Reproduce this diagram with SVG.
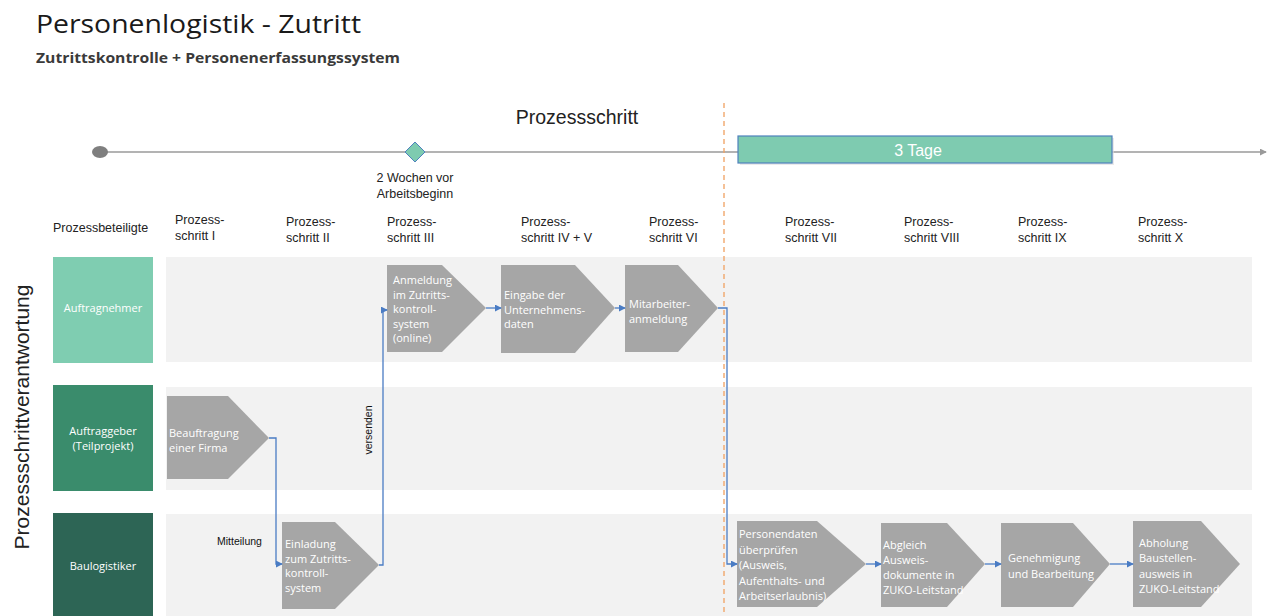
<svg xmlns="http://www.w3.org/2000/svg" width="1271" height="616" viewBox="0 0 1271 616">
<style>
.hdr{font-family:"Liberation Sans",Arial,sans-serif;font-size:12.5px;fill:#222}
.lane{font-family:"Open Sans","Liberation Sans",sans-serif;font-size:11px;fill:#fff;text-anchor:middle}
.step{fill:#a6a6a6}
.stxt{font-family:"Open Sans","Liberation Sans",sans-serif;font-size:11px;fill:#fff}
.band{fill:#f2f2f2}
.con{fill:none;stroke:#4a7cc4;stroke-width:1.3}
.lbl{font-family:"Liberation Sans",Arial,sans-serif;font-size:10.5px;fill:#111}
</style>
<defs>
<marker id="arr" viewBox="0 0 8 8" refX="7" refY="4" markerWidth="7" markerHeight="7" markerUnits="userSpaceOnUse" orient="auto">
<path d="M0,0 L8,4 L0,8 z" fill="#4a7cc4"/>
</marker>
<marker id="tarr" viewBox="0 0 8 8" refX="7" refY="4" markerWidth="7" markerHeight="7" markerUnits="userSpaceOnUse" orient="auto">
<path d="M0,0 L8,4 L0,8 z" fill="#9a9a9a"/>
</marker>
</defs>
<rect width="1271" height="616" fill="#fff"/>

<g id="title">
<text x="36" y="33" font-family="Open Sans, Liberation Sans, sans-serif" font-size="25" fill="#1a1a1a" textLength="325" lengthAdjust="spacingAndGlyphs">Personenlogistik - Zutritt</text>
<text x="36" y="63" font-family="Open Sans, Liberation Sans, sans-serif" font-size="14.5" font-weight="bold" fill="#3a3a3a" textLength="364" lengthAdjust="spacingAndGlyphs">Zutrittskontrolle + Personenerfassungssystem</text>
</g>

<g id="timeline">
<text x="577" y="124" font-family="Liberation Sans, Arial, sans-serif" font-size="19.5" fill="#222" text-anchor="middle">Prozessschritt</text>
<line x1="100" y1="152" x2="1266" y2="152" stroke="#9a9a9a" stroke-width="1.5" marker-end="url(#tarr)"/>
<ellipse cx="100" cy="152" rx="8" ry="6" fill="#7f7f7f"/>
<path d="M415,142 L425,152 L415,162 L405,152 z" fill="#7ecbb0" stroke="#4f81bd" stroke-width="1"/>
<text class="hdr" x="415" y="182" text-anchor="middle" font-size="12">2 Wochen vor</text>
<text class="hdr" x="415" y="198" text-anchor="middle" font-size="12">Arbeitsbeginn</text>
<rect x="740" y="138" width="374" height="27" fill="#dcdcdc" opacity="0.6"/>
<rect x="738" y="136" width="374" height="27" fill="#7ecbb0" stroke="#4f81bd" stroke-width="1.2"/>
<text x="918" y="156" font-family="Liberation Sans, Arial, sans-serif" font-size="16" fill="#fff" text-anchor="middle">3 Tage</text>
</g>

<g id="headers">
<text class="hdr" x="53" y="232">Prozessbeteiligte</text>
<text class="hdr" x="175" y="224">Prozess-</text><text class="hdr" x="175" y="240">schritt I</text>
<text class="hdr" x="286" y="226">Prozess-</text><text class="hdr" x="286" y="242">schritt II</text>
<text class="hdr" x="387" y="226">Prozess-</text><text class="hdr" x="387" y="242">schritt III</text>
<text class="hdr" x="521" y="226">Prozess-</text><text class="hdr" x="521" y="242">schritt IV + V</text>
<text class="hdr" x="649" y="226">Prozess-</text><text class="hdr" x="649" y="242">schritt VI</text>
<text class="hdr" x="785" y="226">Prozess-</text><text class="hdr" x="785" y="242">schritt VII</text>
<text class="hdr" x="904" y="226">Prozess-</text><text class="hdr" x="904" y="242">schritt VIII</text>
<text class="hdr" x="1018" y="226">Prozess-</text><text class="hdr" x="1018" y="242">schritt IX</text>
<text class="hdr" x="1138" y="226">Prozess-</text><text class="hdr" x="1138" y="242">schritt X</text>
</g>

<text transform="translate(29,417) rotate(-90)" font-family="Liberation Sans, Arial, sans-serif" font-size="21" fill="#222" text-anchor="middle">Prozessschrittverantwortung</text>

<g id="lanes">
<rect class="band" x="166" y="257" width="1086" height="105"/>
<rect class="band" x="166" y="387" width="1086" height="103"/>
<rect class="band" x="166" y="514" width="1086" height="102"/>
</g>
<line x1="724" y1="103" x2="724" y2="616" stroke="#f0a060" stroke-width="1.3" stroke-dasharray="5,4"/>
<g id="lane-auftragnehmer">
<rect x="53" y="257" width="100" height="106" fill="#7fcdb1"/>
<text class="lane" x="103" y="312">Auftragnehmer</text>
</g>
<g id="lane-auftraggeber">
<rect x="53" y="385" width="100" height="106" fill="#3a8c6c"/>
<text class="lane" x="103" y="435">Auftraggeber</text>
<text class="lane" x="103" y="450">(Teilprojekt)</text>
</g>
<g id="lane-baulogistiker">
<rect x="53" y="513" width="100" height="103" fill="#2d6555"/>
<text class="lane" x="103" y="570">Baulogistiker</text>
</g>

<g id="s1">
<path class="step" d="M167,396 L228,396 L269,438 L228,479 L167,479 z"/>
<text class="stxt" x="169" y="437">Beauftragung</text>
<text class="stxt" x="169" y="452">einer  Firma</text>
</g>
<g id="s2">
<path class="step" d="M282,522 L335,522 L379,565 L335,609 L282,609 z"/>
<text class="stxt" x="285" y="548">Einladung</text>
<text class="stxt" x="285" y="562.5">zum Zutritts-</text>
<text class="stxt" x="285" y="577">kontroll-</text>
<text class="stxt" x="285" y="591.5">system</text>
</g>
<g id="s3">
<path class="step" d="M387,265 L442,265 L486,308 L442,352 L387,352 z"/>
<text class="stxt" x="393" y="284">Anmeldung</text>
<text class="stxt" x="393" y="298.5">im Zutritts-</text>
<text class="stxt" x="393" y="313">kontroll-</text>
<text class="stxt" x="393" y="327.5">system</text>
<text class="stxt" x="393" y="342">(online)</text>
</g>
<g id="s4">
<path class="step" d="M501,265 L575,265 L615,308 L575,353 L501,353 z"/>
<text class="stxt" x="504" y="299">Eingabe der</text>
<text class="stxt" x="504" y="313.5">Unternehmens-</text>
<text class="stxt" x="504" y="328">daten</text>
</g>
<g id="s5">
<path class="step" d="M625,265 L678,265 L718,308 L678,352 L625,352 z"/>
<text class="stxt" x="629" y="308">Mitarbeiter-</text>
<text class="stxt" x="629" y="322.5">anmeldung</text>
</g>
<g id="s6">
<path class="step" d="M737,521 L817,521 L866,564 L817,607 L737,607 z"/>
<text class="stxt" x="739" y="538">Personendaten</text>
<text class="stxt" x="739" y="553.5">überprüfen</text>
<text class="stxt" x="739" y="569">(Ausweis,</text>
<text class="stxt" x="739" y="584.5">Aufenthalts- und</text>
<text class="stxt" x="739" y="600">Arbeitserlaubnis)</text>
</g>
<g id="s7">
<path class="step" d="M881,523 L947,523 L985,564 L947,607 L881,607 z"/>
<text class="stxt" x="883" y="549">Abgleich</text>
<text class="stxt" x="883" y="564">Ausweis-</text>
<text class="stxt" x="883" y="579">dokumente in</text>
<text class="stxt" x="883" y="594">ZUKO-Leitstand</text>
</g>
<g id="s8">
<path class="step" d="M1001,523 L1073,523 L1110,564 L1073,607 L1001,607 z"/>
<text class="stxt" x="1008" y="562">Genehmigung</text>
<text class="stxt" x="1008" y="578">und Bearbeitung</text>
</g>
<g id="s9">
<path class="step" d="M1133,521 L1201,521 L1240,564 L1201,607 L1133,607 z"/>
<text class="stxt" x="1139" y="547">Abholung</text>
<text class="stxt" x="1139" y="562">Baustellen-</text>
<text class="stxt" x="1139" y="578">ausweis in</text>
<text class="stxt" x="1139" y="593">ZUKO-Leitstand</text>
</g>

<g id="connectors">
<path class="con" d="M269,438 L276,438 L276,564 L282,564" marker-end="url(#arr)"/>
<path class="con" d="M379,565 L383,565 L383,310 L387,310" marker-end="url(#arr)"/>
<path class="con" d="M486,308 L501,308" marker-end="url(#arr)"/>
<path class="con" d="M615,308 L625,308" marker-end="url(#arr)"/>
<path class="con" d="M718,308 L727,308 L727,564 L737,564" marker-end="url(#arr)"/>
<path class="con" d="M866,564 L881,564" marker-end="url(#arr)"/>
<path class="con" d="M985,564 L1001,564" marker-end="url(#arr)"/>
<path class="con" d="M1110,564 L1133,564" marker-end="url(#arr)"/>
<text class="lbl" x="217" y="545">Mitteilung</text>
<text class="lbl" transform="translate(372,430) rotate(-90)" text-anchor="middle">versenden</text>
</g>
</svg>
